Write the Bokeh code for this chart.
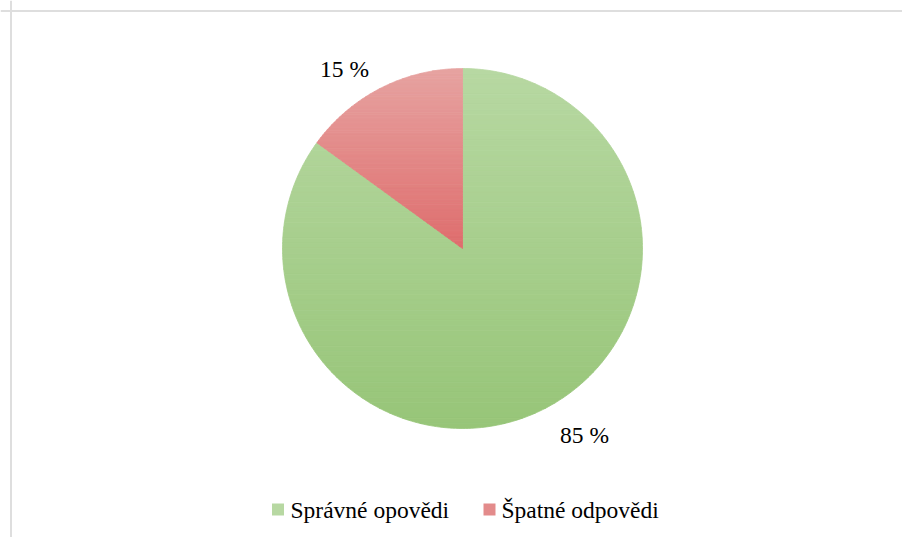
import numpy as np
from bokeh.plotting import figure
from bokeh.models import Range1d, Span
from bokeh.core.properties import value
from bokeh.embed import file_html
from bokeh.resources import INLINE

# ---- data ----
categories = ["Správné opovědi", "Špatné odpovědi"]
shares = [85, 15]
labels = ["85 %", "15 %"]
top_colors = ["#b7d8a2", "#e6a3a1"]
bottom_colors = ["#97c578", "#df6d6d"]

# ---- layout constants (figure pixels, y up) ----
W, H = 902, 537
CX, CY, R = 462, 289, 180
LABEL_POS = [(584, 103), (344, 469)]
LEGEND_Y = 28
LEGEND_SQ_X = [277.5, 489]
LEGEND_TX_X = [290, 501]
FONT = value("'Liberation Serif', 'Times New Roman', serif")
FS = "23.5px"

p = figure(width=W, height=H, output_backend="svg", toolbar_location=None,
           x_range=Range1d(0, W), y_range=Range1d(0, H), min_border=0,
           tools="")
p.axis.visible = False
p.grid.visible = False
p.outline_line_color = None
p.background_fill_color = "white"


def hex2rgb(h):
    h = h.lstrip("#")
    return np.array([int(h[i:i + 2], 16) for i in (0, 2, 4)], dtype=float)


def rgb2hex(c):
    c = np.clip(np.round(c), 0, 255).astype(int)
    return "#%02x%02x%02x" % tuple(c)


def clip_half(poly, yc, keep_above):
    out = []
    n = len(poly)
    for i in range(n):
        a = poly[i]
        b = poly[(i + 1) % n]
        ina = a[1] >= yc if keep_above else a[1] <= yc
        inb = b[1] >= yc if keep_above else b[1] <= yc
        if ina:
            out.append(a)
        if ina != inb:
            t = (yc - a[1]) / (b[1] - a[1])
            out.append((a[0] + t * (b[0] - a[0]), yc))
    return out


total = float(sum(shares))
cum = 0.0
xs_all, ys_all, cols_all = [], [], []
for i, s in enumerate(shares):
    # clockwise from the top, as Excel draws
    a_start = np.pi / 2 - 2 * np.pi * cum / total
    a_end = np.pi / 2 - 2 * np.pi * (cum + s) / total
    cum += s
    th = np.linspace(a_start, a_end, 300)
    poly = [(CX, CY)] + [(CX + R * np.cos(t), CY + R * np.sin(t)) for t in th]
    ys = [pt[1] for pt in poly]
    ymin, ymax = min(ys), max(ys)
    ctop, cbot = hex2rgb(top_colors[i]), hex2rgb(bottom_colors[i])
    nb = 70
    edges = np.linspace(ymax, ymin, nb + 1)
    for b in range(nb):
        y_hi, y_lo = edges[b], edges[b + 1]
        pc = clip_half(poly, y_lo, True)
        if len(pc) < 3:
            continue
        pc = clip_half(pc, y_hi, False)
        if len(pc) < 3:
            continue
        t = (b + 0.5) / nb
        col = rgb2hex(ctop + (cbot - ctop) * t)
        xs_all.append([q[0] for q in pc])
        ys_all.append([q[1] for q in pc])
        cols_all.append(col)

p.patches(xs_all, ys_all, fill_color=cols_all, line_color=cols_all, line_width=0.8)

# data labels
p.text(x=[q[0] for q in LABEL_POS], y=[q[1] for q in LABEL_POS], text=labels,
       text_font=FONT, text_font_size=FS, text_color="black",
       text_align="center", text_baseline="middle")

# legend
p.rect(x=LEGEND_SQ_X, y=[LEGEND_Y] * 2, width=12, height=12,
       fill_color=[top_colors[0], "#e38b8b"], line_color=None)
p.text(x=LEGEND_TX_X, y=[LEGEND_Y] * 2, text=categories,
       text_font=FONT, text_font_size=FS, text_color="black",
       text_align="left", text_baseline="middle")

# chart-area border (only top and left visible)
p.add_layout(Span(location=10.5, dimension="height", line_color="#dedede", line_width=2))
p.add_layout(Span(location=H - 10.5, dimension="width", line_color="#dedede", line_width=2))

open("out.html", "w").write(file_html(p, INLINE))
